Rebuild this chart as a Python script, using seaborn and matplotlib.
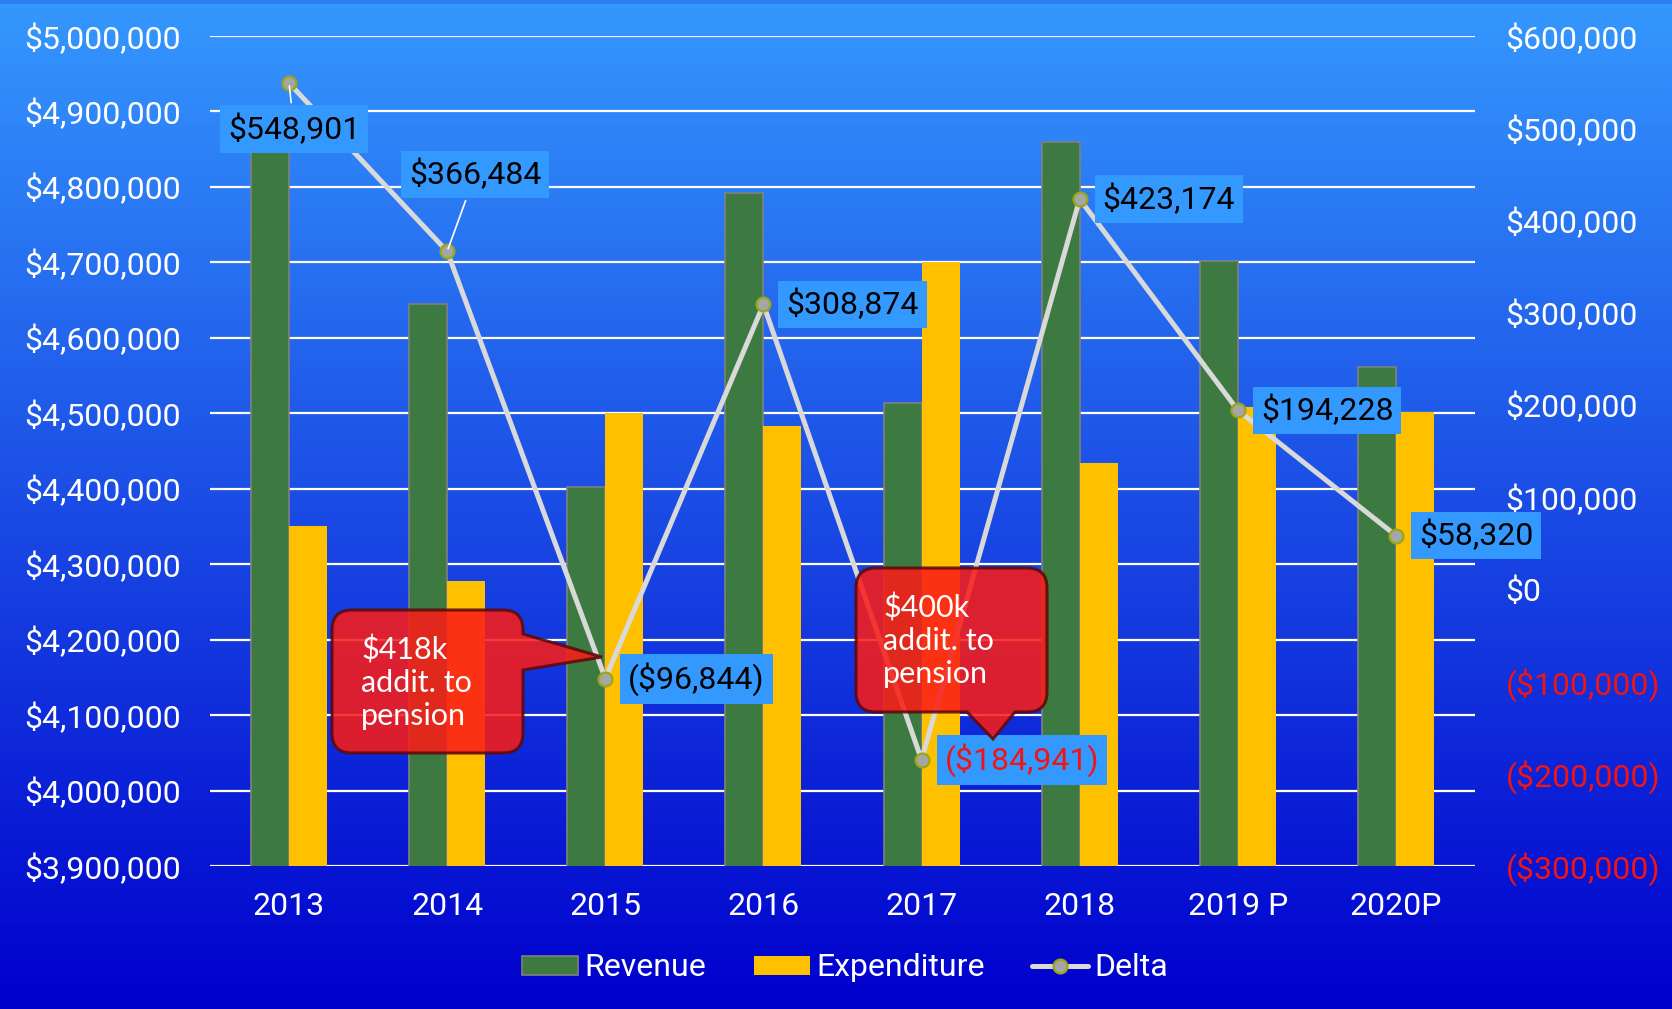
import numpy as np
import pandas as pd
import matplotlib
matplotlib.use('Agg')
import matplotlib.pyplot as plt
import seaborn as sns
from matplotlib.path import Path
from matplotlib.patches import PathPatch, Patch, Rectangle
from matplotlib.lines import Line2D

# Data
years = ['2013', '2014', '2015', '2016', '2017', '2018', '2019 P', '2020P']
revenue = [4900000, 4645000, 4402000, 4792000, 4514000, 4860000, 4702000, 4561000]
expenditure = [4351000, 4278000, 4500000, 4483000, 4700000, 4434000, 4508000, 4502000]
delta = [548901, 366484, -96844, 308874, -184941, 423174, 194228, 58320]
left_ticks = list(range(3900000, 5000001, 100000))
right_ticks = list(range(-300000, 600001, 100000))
notes = ['$418k\naddit. to\npension', '$400k\naddit. to\npension']

W, H = 1672, 1009


def money(v):
    return f'${v:,.0f}' if v >= 0 else f'(${-v:,.0f})'


def px(x, y):
    return (x / W, 1 - y / H)


def bubble(x0, y0, x1, y1, r, side, pts):
    # rounded box with a pointer inserted on one side, pixel coords (y down)
    L, C = Path.LINETO, Path.CURVE3
    verts, codes = [(x0 + r, y0)], [Path.MOVETO]
    verts += [(x1 - r, y0), (x1, y0), (x1, y0 + r)]
    codes += [L, C, C]
    if side == 'right':
        verts += pts
        codes += [L] * len(pts)
    verts += [(x1, y1 - r), (x1, y1), (x1 - r, y1)]
    codes += [L, C, C]
    if side == 'bottom':
        verts += pts
        codes += [L] * len(pts)
    verts += [(x0 + r, y1), (x0, y1), (x0, y1 - r)]
    codes += [L, C, C]
    verts += [(x0, y0 + r), (x0, y0), (x0 + r, y0)]
    codes += [L, C, C]
    verts.append((x0 + r, y0))
    codes.append(Path.CLOSEPOLY)
    return Path([px(x, y) for x, y in verts], codes)


sns.set_theme(style='white')
fs = 23
plt.rcParams['font.family'] = ['Roboto', 'DejaVu Sans']

fig = plt.figure(figsize=(W / 100, H / 100), dpi=100)

# Background gradient
bg = fig.add_axes([0, 0, 1, 1], zorder=-5)
t = np.linspace(0, 1, 256)[:, None, None]
top = np.array([53, 152, 254]) / 255
bottom = np.array([0, 0, 204]) / 255
grad = top * (1 - t) + bottom * t
bg.imshow(grad, aspect='auto', extent=[0, 1, 0, 1])
bg.axis('off')
fig.add_artist(Rectangle((0, 1 - 4 / H), 1, 4 / H, transform=fig.transFigure,
                         fc='#2C7FF0', ec='none', zorder=-4))

ax = fig.add_axes([210 / W, 1 - 866 / H, 1265 / W, 830 / H])
ax.patch.set_alpha(0)

df = pd.DataFrame({
    'year': years * 2,
    'series': ['Revenue'] * len(years) + ['Expenditure'] * len(years),
    'value': revenue + expenditure,
})
sns.barplot(data=df, x='year', y='value', hue='series',
            palette={'Revenue': '#3C7A42', 'Expenditure': '#FFC000'},
            width=0.48, gap=0, errorbar=None, legend=False, ax=ax,
            linewidth=0, saturation=1)
for bar in ax.containers[0]:
    bar.set_edgecolor('#808080')
    bar.set_linewidth(1.2)

ax.set_ylim(3900000, 5000000)
ax.set_yticks(left_ticks, [money(v) for v in left_ticks])
ax.set_xlim(-0.5, len(years) - 0.5)
ax.set_xlabel('')
ax.set_ylabel('')
ax.set_axisbelow(True)
ax.yaxis.grid(True, color='white', lw=1.6)
ax.xaxis.grid(False)
for s in ax.spines.values():
    s.set_visible(False)
ax.tick_params(axis='y', length=0, pad=21, labelsize=fs, labelcolor='white')
ax.tick_params(axis='x', length=0, pad=19, labelsize=fs, labelcolor='white')

# Delta line on secondary axis
ax2 = ax.twinx()
sns.lineplot(x=np.arange(len(years)), y=delta, ax=ax2, color='#D9D9D9', lw=3.6,
             marker='o', markersize=10, markerfacecolor='#A6A6A6',
             markeredgecolor='#9BA614', markeredgewidth=1.6)
ax2.set_xlim(-0.5, len(years) - 0.5)
ax2.set_ylim(-300000, 600000)
ax2.set_yticks(right_ticks, [money(v) for v in right_ticks])
for lab, v in zip(ax2.get_yticklabels(), right_ticks):
    lab.set_color('white' if v >= 0 else '#F01414')
ax2.tick_params(axis='y', length=0, pad=22, labelsize=fs)
ax2.grid(False)
for s in ax2.spines.values():
    s.set_visible(False)

# Data labels
pad = 0.25
box = dict(boxstyle=f'square,pad={pad}', fc='#3399FF', ec='none')
gap_px = 15 + pad * fs * 100 / 72
offsets = [(5, -46, 'center'), (28, 77, 'center')] + [(gap_px, 0, 'left')] * 6
for i, (v, (dx, dy, ha)) in enumerate(zip(delta, offsets)):
    color = '#F01414' if v == min(delta) else 'black'
    arrow = dict(arrowstyle='-', color='white', lw=1.2) if ha == 'center' else None
    ax2.annotate(money(v), xy=(i, v), xytext=(dx, dy), textcoords='offset pixels',
                 ha=ha, va='center', fontsize=fs, color=color, bbox=box,
                 arrowprops=arrow, zorder=5)

# Callouts
callouts = [
    (bubble(332, 610, 523, 753, 20, 'right', [(523, 634), (602, 657), (523, 670)]), (361, 683)),
    (bubble(856, 568, 1047, 712, 20, 'bottom', [(1015, 712), (993, 739), (967, 712)]), (883, 641)),
]
for (path, (tx, ty)), note in zip(callouts, notes):
    fig.add_artist(PathPatch(path, transform=fig.transFigure, fc='#FA1D17', alpha=0.87,
                             ec='#5A0A0A', lw=2.2, zorder=6))
    fig.text(*px(tx, ty), note, ha='left', va='center', color='white', fontsize=22,
             family=['Lato', 'DejaVu Sans'], linespacing=1.2, zorder=7)

# Legend
handles = [
    Patch(fc='#3C7A42', ec='#808080', lw=1.2),
    Patch(fc='#FFC000', ec='none'),
    Line2D([], [], color='#D9D9D9', lw=3.6, marker='o', markersize=10,
           markerfacecolor='#A6A6A6', markeredgecolor='#9BA614', markeredgewidth=1.6),
]
leg = fig.legend(handles, ['Revenue', 'Expenditure', 'Delta'], loc='center',
                 bbox_to_anchor=px(845, 968), ncol=3, frameon=False, fontsize=fs,
                 handlelength=1.75, handleheight=0.55, handletextpad=0.2,
                 columnspacing=1.5, labelcolor='white')

fig.savefig('out.png', dpi=100)
